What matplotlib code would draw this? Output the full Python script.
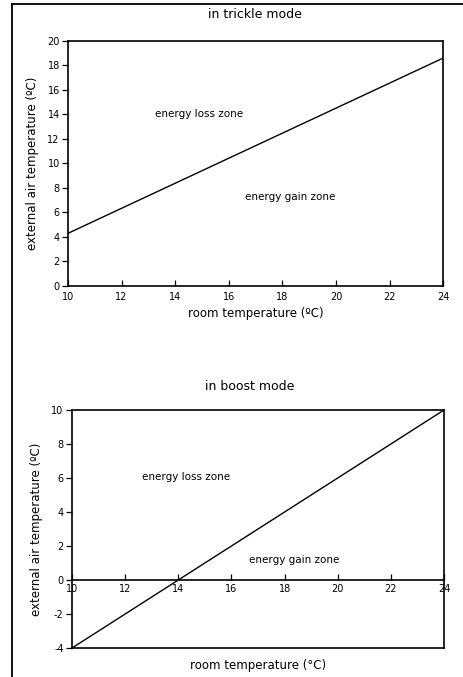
import numpy as np
import matplotlib.pyplot as plt
from matplotlib.lines import Line2D

# trickle mode: Grenzlinie zwischen Verlust- und Gewinnzone
room_trickle = [10, 24]
ext_trickle = [4.3, 18.6]

# boost mode
room_boost = [10, 24]
ext_boost = [-4, 10]

x_ticks = [10, 12, 14, 16, 18, 20, 22, 24]
y_ticks_trickle = [0, 2, 4, 6, 8, 10, 12, 14, 16, 18, 20]
y_ticks_boost = [-4, -2, 0, 2, 4, 6, 8, 10]

plt.rcParams['font.family'] = ['DejaVu Sans']
plt.rcParams['axes.unicode_minus'] = False

fig = plt.figure(figsize=(4.63, 6.77), dpi=100)

# Seitenrand wie im Scan
fig.add_artist(Line2D([12/463, 12/463], [0, 1 - 4/677], color='black', lw=1.3))
fig.add_artist(Line2D([12/463, 1], [1 - 4/677, 1 - 4/677], color='black', lw=1.3))

#oberes Diagramm
ax1 = fig.add_axes([0.147, 0.5776, 0.810, 0.3619])
ax1.plot(room_trickle, ext_trickle, color='black', lw=1.0)
ax1.set_xlim(10, 24)
ax1.set_ylim(0, 20)
ax1.set_xticks(x_ticks)
ax1.set_yticks(y_ticks_trickle)
ax1.tick_params(axis='both', labelsize=7, length=4, width=0.9, pad=2)
ax1.tick_params(axis='x', direction='in', pad=4)
for s in ax1.spines.values():
    s.set_linewidth(1.2)
ax1.set_xlabel('room temperature (ºC)', fontsize=8.5, labelpad=4)
ax1.set_ylabel('external air temperature (ºC)', fontsize=8.5, labelpad=6)
ax1.text(14.9, 14.0, 'energy loss zone', fontsize=7.5, ha='center', va='center')
ax1.text(18.3, 7.3, 'energy gain zone', fontsize=7.5, ha='center', va='center')
fig.text(255/463, 1 - 15/677, 'in trickle mode', fontsize=9, ha='center', va='center')

#unteres Diagramm
ax2 = fig.add_axes([0.1555, 0.0428, 0.8035, 0.3516])
ax2.plot(room_boost, ext_boost, color='black', lw=1.0)
ax2.set_xlim(10, 24)
ax2.set_ylim(-4, 10)
ax2.set_xticks(x_ticks)
ax2.set_yticks(y_ticks_boost)
ax2.spines['bottom'].set_position(('data', 0))
ax2.axhline(-4, color='black', lw=1.2, clip_on=False)
ax2.tick_params(axis='both', labelsize=7, length=4, width=0.9, pad=2)
ax2.tick_params(axis='x', direction='in', pad=3)
for s in ax2.spines.values():
    s.set_linewidth(1.2)
ax2.set_ylabel('external air temperature (ºC)', fontsize=8.5, labelpad=6)
ax2.text(14.3, 6.06, 'energy loss zone', fontsize=7.5, ha='center', va='center')
ax2.text(18.35, 1.18, 'energy gain zone', fontsize=7.5, ha='center', va='center')
fig.text(250/463, 1 - 387/677, 'in boost mode', fontsize=9, ha='center', va='center')
fig.text(258/463, 1 - 665/677, 'room temperature (°C)', fontsize=8.5, ha='center', va='center')

fig.savefig('out.png', dpi=100)
